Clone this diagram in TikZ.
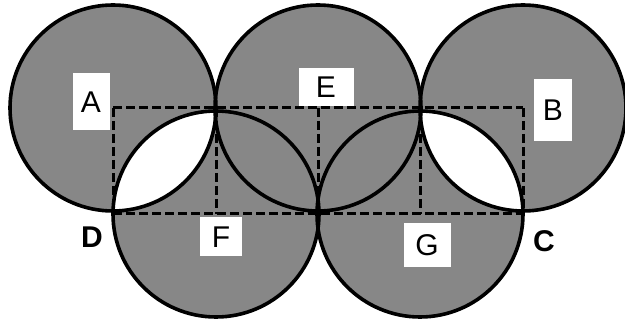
\documentclass[tikz,border=0pt]{standalone}
\usepackage{fontspec}
\setmainfont{Liberation Sans}
\begin{document}
\begin{tikzpicture}[x=1pt,y=1pt,
  disc/.style={fill=black!47},
  ring/.style={draw=black,line width=3.6pt},
  grid line/.style={draw=black,line width=3pt,dash pattern=on 9pt off 4pt},
  labelbox/.style={fill=white,draw=none,inner sep=0pt,font=\fontsize{30}{30}\selectfont},
  cornerlabel/.style={inner sep=0pt,font=\fontsize{30}{30}\selectfont\bfseries}]
\useasboundingbox (0,0) rectangle (625,324);
\def\R{103}
% centres
\coordinate (cA) at (113,216);
\coordinate (cE) at (318,216);
\coordinate (cB) at (523,216);
\coordinate (cF) at (216,110);
\coordinate (cG) at (420,110);
\coordinate (pD) at (113,110);
\coordinate (pC) at (523,110);
\coordinate (tF) at (216,216);
\coordinate (tG) at (420,216);
\coordinate (bE) at (318,110);
% shaded discs
\foreach \c in {cA,cE,cB,cF,cG} \fill[disc] (\c) circle (\R);
% white lenses
\begin{scope}
  \clip (cA) circle (\R);
  \fill[white] (cF) circle (\R);
\end{scope}
\begin{scope}
  \clip (cB) circle (\R);
  \fill[white] (cG) circle (\R);
\end{scope}
% dashed grid
\draw[grid line] (cA) -- (cB);
\draw[grid line] (pD) -- (pC);
\draw[grid line] (cA) -- (pD);
\draw[grid line] (tF) -- (cF);
\draw[grid line] (cE) -- (bE);
\draw[grid line] (tG) -- (cG);
\draw[grid line] (cB) -- (pC);
% outlines
\foreach \c in {cA,cE,cB,cF,cG} \draw[ring] (\c) circle (\R);
% labels
\node[labelbox,minimum width=37pt,minimum height=57pt] (A) at (91,222) {A};
\node[labelbox,minimum width=55pt,minimum height=38pt] (E) at (326,237) {E};
\node[labelbox,minimum width=38pt,minimum height=62pt] (B) at (553,214) {B};
\node[labelbox,minimum width=42pt,minimum height=39pt] (F) at (221,87) {F};
\node[labelbox,minimum width=47pt,minimum height=44pt] (G) at (427,79) {G};
\node[cornerlabel] (D) at (92,87) {D};
\node[cornerlabel] (C) at (544,83) {C};
\end{tikzpicture}
\end{document}
